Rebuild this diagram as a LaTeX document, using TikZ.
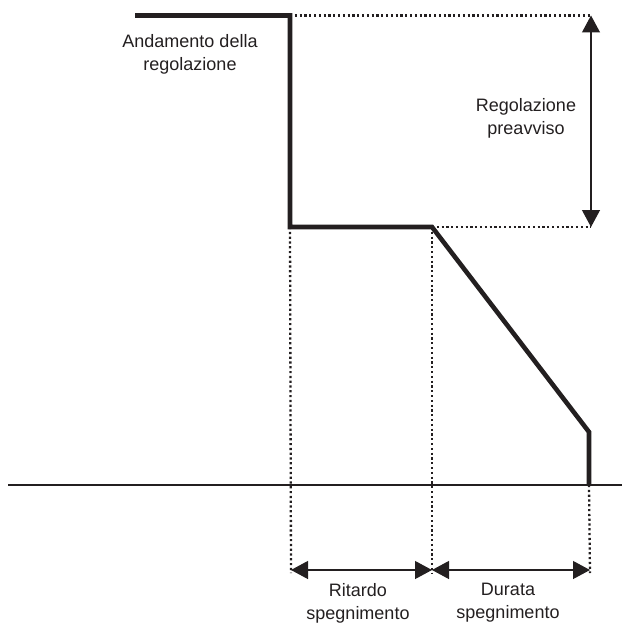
\documentclass[tikz,border=0pt]{standalone}
\usepackage{fontspec}
\setmainfont{Liberation Sans}
\usetikzlibrary{arrows.meta}
\definecolor{ink}{RGB}{35,31,32}

\begin{document}
\begin{tikzpicture}[x=1pt, y=-1pt, ink,
                curve/.style={line width=4.6pt, line join=miter},
                axis/.style={line width=1.8pt},
                guide/.style={line width=2.3pt, dash pattern=on 2.2pt off 2.6pt},
                dim/.style={{Triangle[length=17pt,width=18pt]}-{Triangle[length=17pt,width=18pt]}, line width=1.2pt},
                label/.style={align=center, font=\fontsize{18}{23}\selectfont}
            ]
        \useasboundingbox (0,0) rectangle (622,626);

        % course of the regulation
        \coordinate (start)  at (135,15.5);
        \coordinate (drop)   at (290,15.5);
        \coordinate (low)    at (290,227);
        \coordinate (ramp)   at (432,227);
        \coordinate (end)    at (589,432);
        \coordinate (ground) at (589,485);
        \draw[curve] (start) -- (drop) -- (low) -- (ramp) -- (end) -- (ground);

        % time axis
        \coordinate (axl) at (8,485);
        \coordinate (axr) at (622,485);
        \draw[axis] (axl) -- (axr);

        % guide lines
        \coordinate (topr) at (591,15.5);
        \coordinate (midr) at (591,227);
        \coordinate (ba)   at (291,573);
        \coordinate (bb)   at (432,573);
        \coordinate (bc)   at (590,573);
        \draw[guide] (drop) -- (topr);
        \draw[guide] (ramp) -- (midr);
        \draw[guide] (low)    -- (ba);
        \draw[guide] (ramp)   -- (bb);
        \draw[guide] (ground) -- (bc);

        % dimensions
        \coordinate (da) at (291,570);
        \coordinate (db) at (432,570);
        \coordinate (dc) at (590,570);
        \draw[dim] (topr) -- (midr);
        \draw[dim] (da) -- (db);
        \draw[dim] (db) -- (dc);

        \node[label] (course)  at (190,54)  {Andamento della\\regolazione};
        \node[label] (warning) at (526,118) {Regolazione\\preavviso};
        \node[label] (delay)   at (358,603) {Ritardo\\spegnimento};
        \node[label] (length)  at (508,603) {Durata\\spegnimento};
            \end{tikzpicture}
\end{document}
